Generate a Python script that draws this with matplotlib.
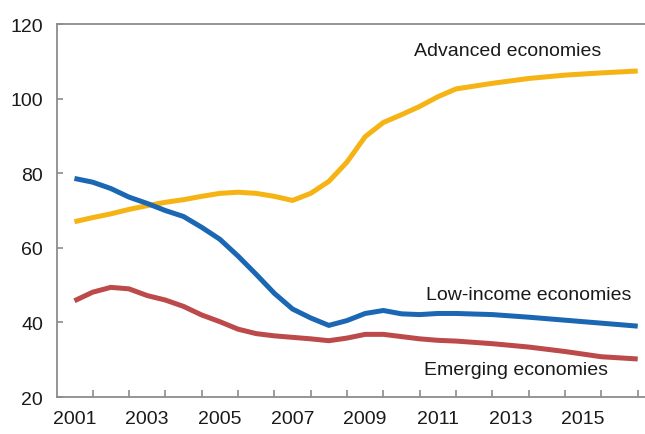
import matplotlib
matplotlib.use('Agg')
import matplotlib.pyplot as plt

# readings (x in years, y in index units)
years = [2001.0, 2001.5, 2002.0, 2002.5, 2003.0, 2003.5, 2004.0, 2004.5,
         2005.0, 2005.5, 2006.0, 2006.5, 2007.0, 2007.5, 2008.0, 2008.5,
         2009.0, 2009.5, 2010.0, 2010.5, 2011.0, 2011.5, 2012.5, 2013.5,
         2014.5, 2015.5, 2016.5]
advanced = [67.0, 68.1, 69.1, 70.3, 71.3, 72.2, 72.9, 73.8,
            74.6, 74.9, 74.6, 73.8, 72.7, 74.6, 77.8, 83.0,
            89.8, 93.6, 95.7, 97.9, 100.5, 102.6, 104.1, 105.4,
            106.3, 106.9, 107.4]
low_income = [78.6, 77.6, 75.9, 73.6, 71.9, 70.0, 68.4, 65.5,
              62.3, 57.8, 52.9, 47.8, 43.6, 41.2, 39.2, 40.5,
              42.4, 43.2, 42.3, 42.1, 42.4, 42.4, 42.1, 41.4,
              40.6, 39.8, 39.0]
emerging = [45.8, 48.1, 49.4, 49.0, 47.2, 46.0, 44.3, 42.0,
            40.2, 38.2, 37.0, 36.4, 36.0, 35.6, 35.1, 35.8,
            36.8, 36.8, 36.2, 35.6, 35.2, 35.0, 34.3, 33.4,
            32.2, 30.8, 30.2]

tick_years = [2001, 2003, 2005, 2007, 2009, 2011, 2013, 2015]
y_ticks = [20, 40, 60, 80, 100, 120]

plt.rcParams['font.family'] = ['Liberation Sans', 'DejaVu Sans']

fig = plt.figure(figsize=(6.45, 4.35), dpi=100)
ax = fig.add_axes([0.0884, 0.085, 0.9116, 0.8575])

ax.plot(years, advanced, color='#F5B314', lw=3.6, solid_capstyle='butt', solid_joinstyle='round')
ax.plot(years, low_income, color='#1B67B3', lw=3.6, solid_capstyle='butt', solid_joinstyle='round')
ax.plot(years, emerging, color='#BC4A4A', lw=3.6, solid_capstyle='butt', solid_joinstyle='round')

ax.set_xlim(2000.52, 2016.7)
ax.set_ylim(20, 120)

# year labels sit between the tick marks
ax.set_xticks(tick_years)
ax.set_xticklabels([str(y) for y in tick_years])
ax.tick_params(axis='x', which='major', length=0, pad=9, labelsize=14, labelcolor='#1a1a1a')
ax.set_xticks([y + 0.5 for y in range(2001, 2017)], minor=True)
ax.tick_params(axis='x', which='minor', direction='in', length=5, color='#8c8c8c', width=1.2)

ax.set_yticks(y_ticks)
ax.tick_params(axis='y', direction='in', length=4, color='#8c8c8c', width=1.2,
               pad=10, labelsize=14, labelcolor='#1a1a1a')

for side in ['left', 'bottom', 'top']:
    ax.spines[side].set_color('#8c8c8c')
    ax.spines[side].set_linewidth(1.3)
ax.spines['right'].set_visible(False)

ax.text(2010.35, 112.8, 'Advanced economies', fontsize=14, color='#1a1a1a', va='center', ha='left')
ax.text(2010.68, 47.6, 'Low-income economies', fontsize=14, color='#1a1a1a', va='center', ha='left')
ax.text(2010.63, 27.5, 'Emerging economies', fontsize=14, color='#1a1a1a', va='center', ha='left')

fig.savefig('out.png', dpi=100)
